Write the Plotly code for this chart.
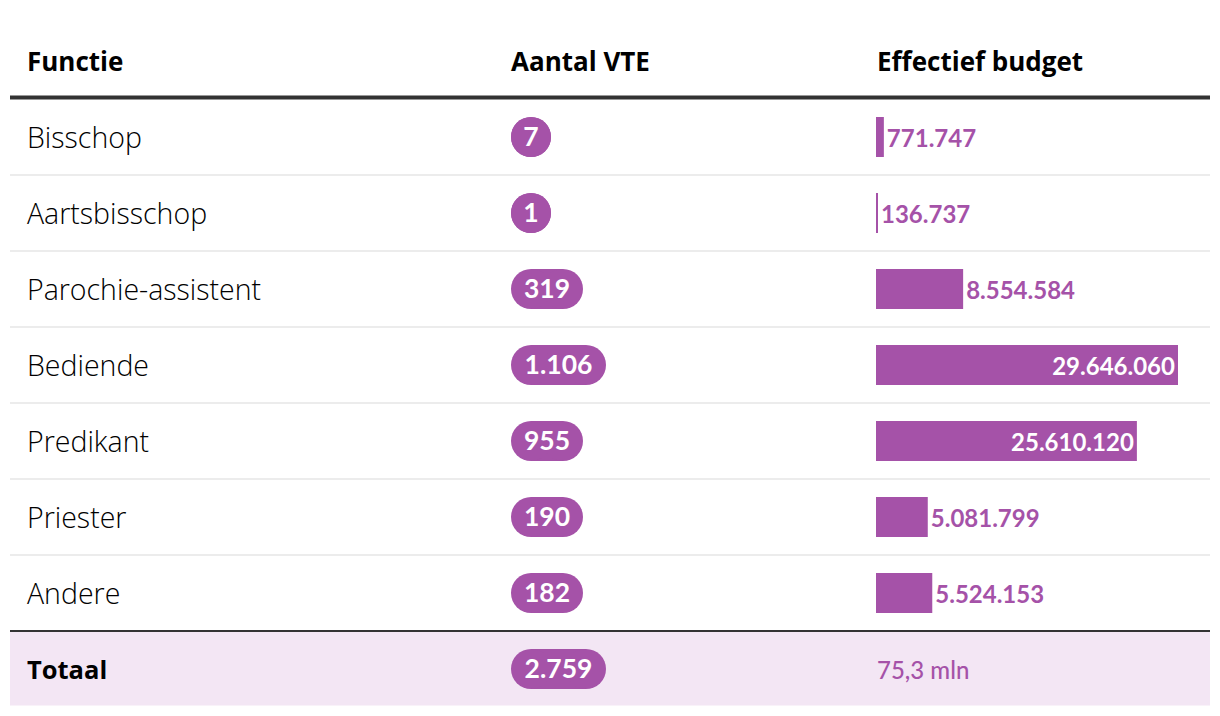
import plotly.graph_objects as go

functies = ["Bisschop", "Aartsbisschop", "Parochie-assistent", "Bediende", "Predikant", "Priester", "Andere"]
vte = [7, 1, 319, 1106, 955, 190, 182]
budget = [771747, 136737, 8554584, 29646060, 25610120, 5081799, 5524153]
totaal_label = "Totaal"
totaal_vte = 2759
totaal_budget_label = "75,3 mln"
headers = ["Functie", "Aantal VTE", "Effectief budget"]

PURPLE = "#a552a8"
OFF = 8  # page body margin
W, H = 1220 - OFF, 716 - OFF
TXT_FONT = "Open Sans"
NUM_FONT = "Lato"

def nl(v):
    return f"{v:,}".replace(",", ".")

def pill_width(s):
    if len(s) == 1:
        return 40
    digits = sum(c.isdigit() for c in s)
    dots = len(s) - digits
    return 16 * digits + 7 * dots + 24

def px(x):
    return (x - OFF) / W

n = len(functies)
rows = list(range(n))
total_row = n

# y axis: row i centred at page pixel 137 + 76*i
row_h = 76
y0 = 137 - OFF
y_top = -y0 / row_h
y_bot = (H - y0) / row_h
bar_w = 40 / row_h
PILL_D = 40

fig = go.Figure()

# pills for VTE (x2 axis measured in page pixels)
pill_labels = [nl(v) for v in vte] + [nl(totaal_vte)]
pill_rows = rows + [total_row]
widths = [pill_width(s) for s in pill_labels]
lefts = [511 + PILL_D / 2 for w in widths]
rights = [511 + w - PILL_D / 2 for w in widths]
centers = [511 + w / 2 for w in widths]
fig.add_trace(go.Bar(
    y=pill_rows, x=[r - l for l, r in zip(lefts, rights)], base=lefts, orientation="h",
    width=bar_w, marker=dict(color=PURPLE, line=dict(width=0)),
    xaxis="x2", yaxis="y", hoverinfo="skip", showlegend=False))
fig.add_trace(go.Scatter(
    x=lefts + rights, y=pill_rows + pill_rows, mode="markers",
    marker=dict(size=PILL_D, color=PURPLE, line=dict(width=0)),
    xaxis="x2", yaxis="y", hoverinfo="skip", showlegend=False, cliponaxis=False))
fig.add_trace(go.Scatter(
    x=centers, y=[r + 2 / row_h for r in pill_rows], mode="text", text=pill_labels,
    textfont=dict(family=NUM_FONT, size=26.5, color="white", weight="bold"),
    textposition="middle center", xaxis="x2", yaxis="y",
    hoverinfo="skip", showlegend=False))

# budget bars
fig.add_trace(go.Bar(
    y=rows, x=budget, orientation="h", width=bar_w,
    marker=dict(color=PURPLE, line=dict(width=0)),
    text=[nl(v) for v in budget], textposition="auto", insidetextanchor="end",
    textangle=0, constraintext="none", cliponaxis=False,
    insidetextfont=dict(family=NUM_FONT, size=24, color="white", weight="bold"),
    outsidetextfont=dict(family=NUM_FONT, size=24, color=PURPLE, weight="bold"),
    xaxis="x", yaxis="y", hoverinfo="skip", showlegend=False))

bar_x0 = 876
px_per_unit = 302 / 29646060
bar_range = (1220 - bar_x0) / px_per_unit

shapes = []
shapes.append(dict(type="rect", xref="paper", yref="y", x0=px(10), x1=px(1210),
                   y0=total_row - 0.5, y1=total_row + 0.48, fillcolor="#f3e6f4",
                   line=dict(width=0), layer="below"))
for i in range(n - 1):
    shapes.append(dict(type="line", xref="paper", yref="y", x0=px(10), x1=px(1210),
                       y0=i + 0.5, y1=i + 0.5, line=dict(color="#ececec", width=2), layer="below"))
shapes.append(dict(type="line", xref="paper", yref="y", x0=px(10), x1=px(1210),
                   y0=total_row - 0.5, y1=total_row - 0.5, line=dict(color="#333333", width=2)))
shapes.append(dict(type="line", xref="paper", yref="y", x0=px(10), x1=px(1210),
                   y0=-0.52, y1=-0.52, line=dict(color="#333333", width=4)))

annotations = []
col_x = [25, 509, 875]
for hx, h in zip(col_x, headers):
    annotations.append(dict(text=h, xref="paper", yref="y", x=px(hx), y=-1, xanchor="left",
                            yanchor="middle", showarrow=False,
                            font=dict(family=TXT_FONT, size=26, color="black", weight="bold")))
for i, f in enumerate(functies):
    annotations.append(dict(text=f, xref="paper", yref="y", x=px(25), y=i, xanchor="left",
                            yanchor="middle", showarrow=False,
                            font=dict(family=TXT_FONT, size=28.5, color="black", weight=300)))
annotations.append(dict(text=totaal_label, xref="paper", yref="y", x=px(25), y=total_row,
                        xanchor="left", yanchor="middle", showarrow=False,
                        font=dict(family=TXT_FONT, size=25.5, color="black", weight="bold")))
annotations.append(dict(text=totaal_budget_label, xref="paper", yref="y", x=px(875), y=total_row,
                        xanchor="left", yanchor="middle", showarrow=False,
                        font=dict(family=NUM_FONT, size=24, color=PURPLE, weight=500)))

fig.update_layout(
    width=W, height=H, margin=dict(l=0, r=0, t=0, b=0),
    paper_bgcolor="white", plot_bgcolor="rgba(0,0,0,0)",
    barmode="overlay", showlegend=False,
    xaxis=dict(domain=[px(bar_x0), px(1220)], range=[0, bar_range], visible=False,
               fixedrange=True, anchor="y"),
    xaxis2=dict(domain=[0, 1], range=[OFF, 1220], visible=False, fixedrange=True, anchor="y"),
    yaxis=dict(domain=[0, 1], range=[y_bot, y_top], visible=False, fixedrange=True, anchor="x"),
    shapes=shapes, annotations=annotations,
)

fig.write_html("out.html")
